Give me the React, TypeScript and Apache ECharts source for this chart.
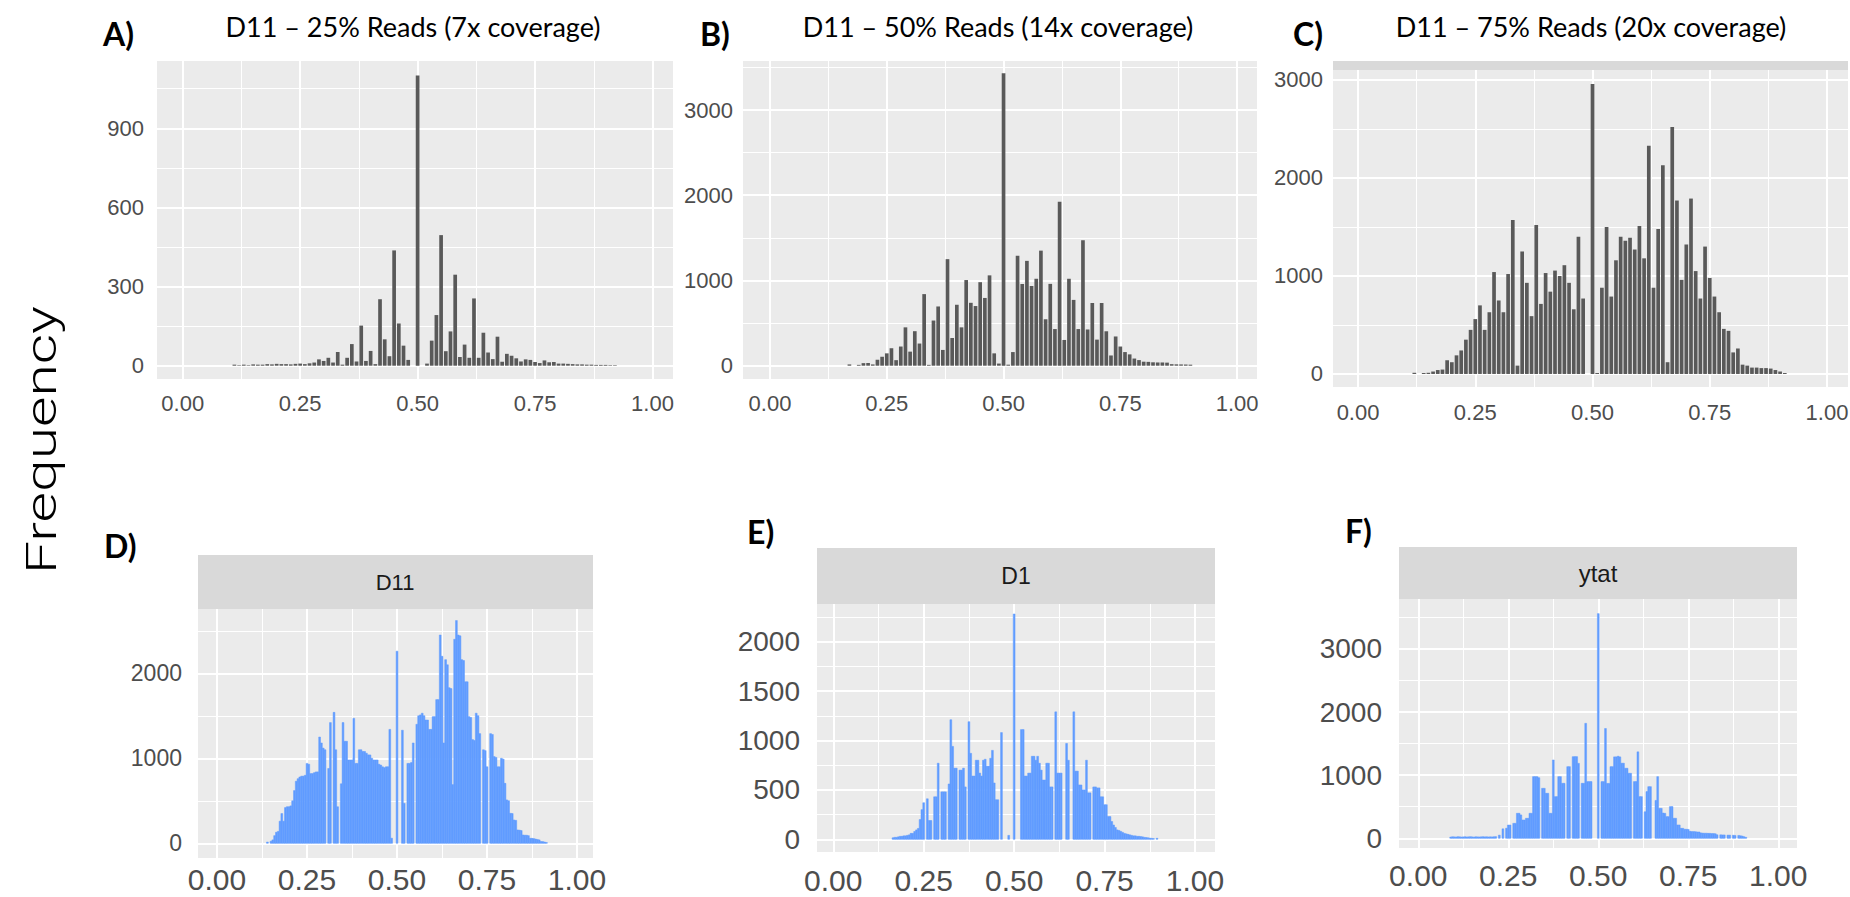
import React, { useEffect, useRef } from "react";
import * as echarts from "echarts";

// ---------- data ----------
// Allele-frequency histograms. Top row uses bins of width 0.01, bottom row 0.005.
// Each series is a start bin centre plus the count in every consecutive bin.

const TOP_BIN = 0.01;
const BOTTOM_BIN = 0.005;

const titleA = "D11 – 25% Reads (7x coverage)";
const titleB = "D11 – 50% Reads (14x coverage)";
const titleC = "D11 – 75% Reads (20x coverage)";
const stripD = "D11";
const stripE = "D1";
const stripF = "ytat";
const panelLetters = ["A)", "B)", "C)", "D)", "E)", "F)"];
const yAxisName = "Frequency";

const xTicks = [0, 0.25, 0.5, 0.75, 1];
const xMinor = [0.125, 0.375, 0.625, 0.875];

const aYTicks = [0, 300, 600, 900];
const aYMinor = [150, 450, 750, 1050];
const bYTicks = [0, 1000, 2000, 3000];
const bYMinor = [500, 1500, 2500, 3500];
const cYTicks = [0, 1000, 2000, 3000];
const cYMinor = [500, 1500, 2500];
const dYTicks = [0, 1000, 2000];
const dYMinor = [500, 1500, 2500];
const eYTicks = [0, 500, 1000, 1500, 2000];
const eYMinor = [250, 750, 1250, 1750, 2250];
const fYTicks = [0, 1000, 2000, 3000];
const fYMinor = [500, 1500, 2500, 3500];

const aStart = 0.11;
const aCounts = [
  4, 2, 4, 2, 5, 4, 4, 6, 5, 7,
  6, 6, 5, 7, 8, 6, 9, 12, 24, 18,
  30, 12, 52, 4, 30, 82, 16, 152, 18, 56,
  6, 252, 100, 36, 437, 160, 76, 22, 0, 1100,
  0, 8, 95, 192, 495, 55, 130, 345, 33, 80,
  30, 255, 30, 125, 50, 25, 110, 15, 45, 38,
  28, 16, 24, 22, 14, 10, 20, 13, 14, 8,
  8, 7, 6, 5, 5, 4, 4, 3, 3, 3,
  2, 2,
];

const bStart = 0.17;
const bCounts = [
  15, 0, 10, 30, 32, 15, 70, 105, 145, 205,
  65, 225, 450, 165, 405, 260, 840, 10, 530, 695,
  185, 1250, 325, 715, 450, 1005, 738, 700, 980, 795,
  1060, 145, 25, 3430, 12, 160, 1290, 960, 1230, 935,
  1020, 1350, 545, 960, 430, 1925, 302, 1020, 772, 430,
  1472, 425, 736, 306, 736, 404, 120, 343, 225, 160,
  133, 84, 66, 47, 45, 40, 38, 38, 36, 18,
  16, 15, 14, 12,
];

const cStart = 0.12;
const cCounts = [
  12, 0, 10, 12, 25, 40, 45, 140, 120, 190,
  240, 350, 450, 560, 700, 450, 630, 1040, 750, 630,
  1020, 1570, 85, 1250, 930, 590, 1520, 715, 1030, 840,
  1055, 1000, 1110, 930, 660, 1400, 770, 0, 2960, 10,
  880, 1500, 790, 1160, 1400, 1360, 1390, 1270, 1510, 1180,
  2330, 880, 1480, 2130, 120, 2520, 1770, 960, 1320, 1790,
  1050, 770, 1300, 980, 790, 630, 460, 440, 220, 260,
  95, 85, 65, 65, 60, 60, 55, 40, 25, 10,
];

const dStart = 0.14;
const dCounts = [
  15, 0, 25, 40, 90, 130, 140, 260, 350, 260,
  420, 430, 430, 440, 500, 620, 730, 760, 780, 790,
  790, 800, 940, 930, 820, 820, 830, 840, 840, 1250,
  1180, 1120, 1100, 0, 880, 1420, 0, 1540, 1100, 430,
  0, 700, 1420, 1200, 1200, 980, 980, 980, 1470, 940,
  940, 1100, 1100, 1080, 1080, 1060, 1040, 1040, 1000, 980,
  980, 980, 930, 920, 900, 890, 900, 900,
  1340, 60, 0, 0, 2260, 0, 0, 1330, 470, 0,
  940, 940, 950, 1180, 0, 1400, 1500, 1510, 1530, 1500,
  1450, 1450, 1340, 1340, 1490, 1490, 1690, 1690, 2450, 2200,
  1180, 2160, 2100, 1830, 1820, 690, 2400, 2620, 2450, 2440,
  2160, 2150, 1900, 1900, 1490, 1480, 1220, 1210, 1530, 1500,
  1290, 0, 1100, 1090, 900, 0, 1290, 1280, 1020, 1010,
  900, 900, 1000, 990, 705, 510, 500, 353, 350, 274,
  270, 157, 155, 150, 98, 95, 95, 90, 59, 58,
  55, 50, 45, 40, 20, 20, 15, 10,
];

const eStart = 0.165;
const eCounts = [
  15, 20, 20, 25, 30, 30, 35, 35, 40, 45,
  60, 60, 80, 95, 110, 200, 300, 370, 0, 410,
  190, 190, 0, 430, 430, 770, 0, 480, 480, 480,
  0, 560, 1210, 940, 720, 720, 0, 700, 700, 720,
  530, 0, 1190, 870, 640, 640, 800, 800, 670, 640,
  800, 810, 740, 740, 820, 900, 570, 400, 400, 0,
  1080, 0, 0, 0, 40, 0, 0, 2280, 0, 0,
  0, 1110, 1110, 640, 640, 670, 670, 840, 840, 800,
  840, 770, 700, 600, 600, 770, 770, 530, 530, 0,
  1290, 670, 670, 670, 0, 0, 970, 800, 0, 0,
  1290, 690, 690, 550, 550, 500, 500, 800, 470, 470,
  0, 530, 530, 520, 520, 430, 430, 350, 350, 230,
  230, 180, 145, 120, 95, 90, 80, 70, 60, 55,
  50, 45, 40, 35, 35, 30, 30, 28, 25, 20,
  18, 15, 12, 10, 8, 0, 10,
];

const fStart = 0.09;
const fCounts = [
  20, 24, 22, 21, 25, 23, 20, 22, 24, 21,
  23, 25, 22, 20, 24, 22, 21, 23, 25, 22,
  24, 21, 23, 22, 24, 26,
  0, 50, 0, 150, 0, 160, 210, 210, 0, 237,
  237, 396, 396, 370, 290, 290, 317, 317, 396, 396,
  977, 977, 977, 960, 0, 792, 792, 713, 713, 396,
  396, 1241, 660, 660, 977, 977, 871, 871, 0, 1135,
  1135, 0, 1294, 1294, 1294, 1188, 0, 871, 871, 1822,
  898, 898, 898,
  0, 0, 0, 3560, 0, 898, 898, 1740, 870, 870,
  1135, 1135, 1290, 1290, 1300, 1290, 1190, 1190, 1110, 1110,
  1030, 1030, 0, 898, 898, 1370, 660, 660, 0, 420,
  740, 818, 818, 0, 0, 600, 977, 475, 475, 400,
  396, 343, 343, 502, 502, 317, 317, 211, 211, 158,
  158, 143, 143, 140, 110, 106, 106, 104, 100, 100,
  85, 82, 80, 80, 78, 78, 75, 75, 72, 55,
  0, 55, 53, 53, 0, 50, 50, 0, 48, 45,
  0, 45, 40, 35, 25, 15,
];

// ---------- layout & styling ----------
const GRID_BG = "#ebebeb";
const STRIP_BG = "#d9d9d9";
const TICK_COLOR = "#4d4d4d";
const DARK_BAR = "#595959";
const BLUE_BAR = "#619cff";
const TICK_FONT = "'Liberation Sans', Arial, sans-serif";
const TITLE_FONT = "Lato, 'Open Sans', sans-serif";

type Panel = {
  left: number; top: number; width: number; height: number;
  xMin: number; xMax: number; yMin: number; yMax: number;
  yTicks: number[]; yMinor: number[];
  start: number; counts: number[]; bin: number;
  color: string; gap: number;
  xFont: number; xMargin: number; yFont: number; yMargin: number;
};

const panels: Panel[] = [
  { left: 157, top: 61, width: 516, height: 318, xMin: -0.0547, xMax: 1.0436, yMin: -50.4, yMax: 1155,
    yTicks: aYTicks, yMinor: aYMinor, start: aStart, counts: aCounts, bin: TOP_BIN,
    color: DARK_BAR, gap: 0.5, xFont: 22, xMargin: 13, yFont: 22, yMargin: 13 },
  { left: 743, top: 61, width: 514, height: 318, xMin: -0.0578, xMax: 1.0426, yMin: -156, yMax: 3575,
    yTicks: bYTicks, yMinor: bYMinor, start: bStart, counts: bCounts, bin: TOP_BIN,
    color: DARK_BAR, gap: 0.5, xFont: 22, xMargin: 13, yFont: 22, yMargin: 10 },
  { left: 1333, top: 70, width: 515, height: 317, xMin: -0.0534, xMax: 1.0448, yMin: -133, yMax: 3102,
    yTicks: cYTicks, yMinor: cYMinor, start: cStart, counts: cCounts, bin: TOP_BIN,
    color: DARK_BAR, gap: 0.5, xFont: 22, xMargin: 14, yFont: 22, yMargin: 10 },
  { left: 198, top: 609, width: 395, height: 249, xMin: -0.0528, xMax: 1.0444, yMin: -173, yMax: 2756,
    yTicks: dYTicks, yMinor: dYMinor, start: dStart, counts: dCounts, bin: BOTTOM_BIN,
    color: BLUE_BAR, gap: 0, xFont: 30, xMargin: 6, yFont: 23, yMargin: 16 },
  { left: 817, top: 604, width: 398, height: 248, xMin: -0.045, xMax: 1.0553, yMin: -128.5, yMax: 2381,
    yTicks: eYTicks, yMinor: eYMinor, start: eStart, counts: eCounts, bin: BOTTOM_BIN,
    color: BLUE_BAR, gap: 0, xFont: 30, xMargin: 13, yFont: 28, yMargin: 17 },
  { left: 1399, top: 599, width: 398, height: 249, xMin: -0.0536, xMax: 1.052, yMin: -154, yMax: 3792,
    yTicks: fYTicks, yMinor: fYMinor, start: fStart, counts: fCounts, bin: BOTTOM_BIN,
    color: BLUE_BAR, gap: 0, xFont: 30, xMargin: 12, yFont: 28, yMargin: 17 },
];

function toBins(start: number, bin: number, counts: number[]) {
  const out: number[][] = [];
  counts.forEach((n, i) => {
    if (n > 0) out.push([Math.round((start + i * bin) * 1000) / 1000, n]);
  });
  return out;
}

function histogramRenderer(bin: number, color: string, gap: number, outline: boolean) {
  return (_params: any, api: any) => {
    const centre = api.value(0);
    const count = api.value(1);
    const tl = api.coord([centre - bin / 2, count]);
    const br = api.coord([centre + bin / 2, 0]);
    return {
      type: "rect",
      shape: { x: tl[0] + gap, y: tl[1], width: Math.max(br[0] - tl[0] - 2 * gap, 0.6), height: br[1] - tl[1] },
      style: outline ? { fill: color, stroke: color, lineWidth: 0.5 } : { fill: color },
    };
  };
}

function buildOption() {
  const grid: any[] = [];
  const xAxis: any[] = [];
  const yAxis: any[] = [];
  const series: any[] = [];

  panels.forEach((p, i) => {
    grid.push({
      left: p.left, top: p.top, width: p.width, height: p.height,
      show: true, backgroundColor: GRID_BG, borderWidth: 0, containLabel: false, outerBoundsMode: "none",
    });
    // major gridlines + tick labels
    xAxis.push({
      type: "value", gridIndex: i, min: p.xMin, max: p.xMax, position: "bottom",
      axisLine: { show: false, onZero: false },
      axisTick: { show: false, customValues: xTicks },
      axisLabel: {
        customValues: xTicks, formatter: (v: number) => v.toFixed(2),
        color: TICK_COLOR, fontSize: p.xFont, fontFamily: TICK_FONT, margin: p.xMargin,
      },
      splitLine: { show: true, lineStyle: { color: "#ffffff", width: 2 } },
    });
    // minor gridlines
    xAxis.push({
      type: "value", gridIndex: i, min: p.xMin, max: p.xMax, position: "top",
      axisLine: { show: false, onZero: false },
      axisTick: { show: false, customValues: xMinor },
      axisLabel: { show: false },
      splitLine: { show: true, lineStyle: { color: "#ffffff", width: 1 } },
    });
    yAxis.push({
      type: "value", gridIndex: i, min: p.yMin, max: p.yMax, position: "left",
      axisLine: { show: false, onZero: false },
      axisTick: { show: false, customValues: p.yTicks },
      axisLabel: {
        customValues: p.yTicks, formatter: (v: number) => String(v),
        color: TICK_COLOR, fontSize: p.yFont, fontFamily: TICK_FONT, margin: p.yMargin,
      },
      splitLine: { show: true, lineStyle: { color: "#ffffff", width: 2 } },
    });
    yAxis.push({
      type: "value", gridIndex: i, min: p.yMin, max: p.yMax, position: "right",
      axisLine: { show: false, onZero: false },
      axisTick: { show: false, customValues: p.yMinor },
      axisLabel: { show: false },
      splitLine: { show: true, lineStyle: { color: "#ffffff", width: 1 } },
    });
    series.push({
      type: "custom",
      xAxisIndex: 2 * i,
      yAxisIndex: 2 * i,
      data: toBins(p.start, p.bin, p.counts),
      encode: { x: 0, y: 1 },
      clip: true,
      silent: true,
      renderItem: histogramRenderer(p.bin, p.color, p.gap, p.color === BLUE_BAR),
    });
  });

  const text = (x: number, y: number, s: string, size: number, weight: any, family: string, color = "#000", align = "center") => ({
    type: "text", x, y, silent: true,
    style: { text: s, fontSize: size, fontWeight: weight, fontFamily: family, fill: color, align, verticalAlign: "middle" },
  });

  const graphic: any[] = [
    // panel titles (top row)
    text(413, 26, titleA, 27, "normal", TITLE_FONT),
    text(998, 26, titleB, 27, "normal", TITLE_FONT),
    text(1591, 26, titleC, 27, "normal", TITLE_FONT),
    // panel letters
    text(103, 33, panelLetters[0], 32, "bold", TITLE_FONT, "#000", "left"),
    text(700, 33, panelLetters[1], 32, "bold", TITLE_FONT, "#000", "left"),
    text(1293, 33, panelLetters[2], 32, "bold", TITLE_FONT, "#000", "left"),
    text(104, 545, panelLetters[3], 32, "bold", TITLE_FONT, "#000", "left"),
    text(747, 531, panelLetters[4], 32, "bold", TITLE_FONT, "#000", "left"),
    text(1345, 530, panelLetters[5], 32, "bold", TITLE_FONT, "#000", "left"),
    // facet strips
    { type: "rect", silent: true, shape: { x: 1333, y: 61, width: 515, height: 9 }, style: { fill: STRIP_BG } },
    { type: "rect", silent: true, shape: { x: 198, y: 555, width: 395, height: 54 }, style: { fill: STRIP_BG } },
    { type: "rect", silent: true, shape: { x: 817, y: 548, width: 398, height: 56 }, style: { fill: STRIP_BG } },
    { type: "rect", silent: true, shape: { x: 1399, y: 547, width: 398, height: 52 }, style: { fill: STRIP_BG } },
    text(395, 582, stripD, 22, "normal", TICK_FONT, "#1a1a1a"),
    text(1016, 576, stripE, 23, "normal", TICK_FONT, "#1a1a1a"),
    text(1598, 573, stripF, 24, "normal", TICK_FONT, "#1a1a1a"),
    // shared y-axis name
    {
      type: "text", x: 42, y: 440, rotation: Math.PI / 2, scaleX: 1.4, silent: true,
      style: { text: yAxisName, fontSize: 42, fontWeight: 300, fontFamily: "Roboto, 'Liberation Sans', sans-serif", fill: "#000", align: "center", verticalAlign: "middle" },
    },
  ];

  return {
    animation: false,
    backgroundColor: "#ffffff",
    grid,
    xAxis,
    yAxis,
    series,
    graphic: { elements: graphic },
  };
}

export default function App() {
  const ref = useRef<HTMLDivElement>(null);
  useEffect(() => {
    if (!ref.current) return;
    const chart = echarts.init(ref.current, null, { renderer: "svg" });
    chart.setOption(buildOption() as any);
    return () => chart.dispose();
  }, []);
  return (
    <div
      ref={ref}
      style={{ position: "fixed", left: 0, top: 0, width: 1850, height: 897, background: "#ffffff" }}
    />
  );
}
